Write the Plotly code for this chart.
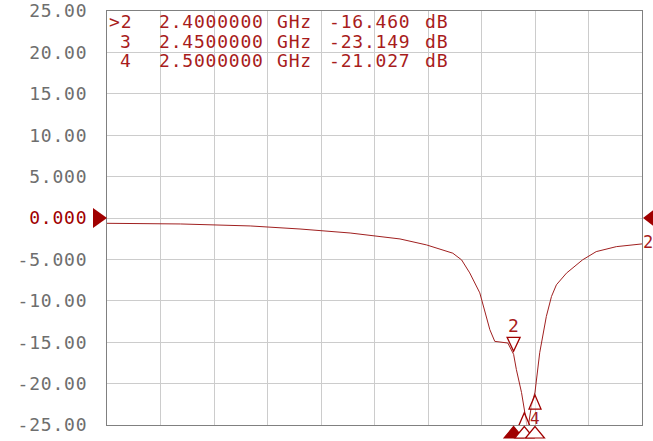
import plotly.graph_objects as go

# ---- data ----
freq_ghz = [0.5, 0.843, 1.169, 1.402, 1.636, 1.869, 1.993, 2.116, 2.157, 2.195,
            2.242, 2.265, 2.289, 2.312, 2.349, 2.373, 2.4, 2.413, 2.437, 2.45,
            2.466, 2.483, 2.5, 2.522, 2.553, 2.577, 2.600, 2.647, 2.722, 2.786,
            2.880, 3.0]
s11_db = [-0.64, -0.72, -0.96, -1.33, -1.81, -2.53, -3.25, -4.25, -5.06, -6.63,
          -9.04, -11.08, -13.49, -14.90, -15.02, -15.10, -16.46, -18.31, -21.08, -23.149,
          -25.6, -22.73, -21.027, -16.27, -11.89, -9.48, -8.07, -6.66, -5.06, -4.06,
          -3.46, -3.13]

marker_ids = ["2", "3", "4"]
marker_freq = [2.40, 2.45, 2.50]
marker_db = [-16.460, -23.149, -21.027]
marker_freq_text = ["2.4000000", "2.4500000", "2.5000000"]
marker_db_text = ["-16.460", "-23.149", "-21.027"]
active_marker = "2"

y_tick_vals = [25, 20, 15, 10, 5, 0, -5, -10, -15, -20, -25]
y_tick_text = ["25.00", "20.00", "15.00", "10.00", "5.000", "0.000",
               "-5.000", "-10.00", "-15.00", "-20.00", "-25.00"]
x_range = [0.5, 3.0]
y_range = [-25, 25]
ref_level = 0

# ---- style ----
W, H = 653, 441
L, R, T, B = 107, 11, 11, 16
PW, PH = W - L - R, H - T - B
RED = "#a00000"
TRACE = "#a02020"
TXT = "#a81c1c"
GRAY = "#6e6e6e"
GRID = "#cccccc"
FONT = "DejaVu Sans Mono"
SP = "letter-spacing:0.8px"

def px_x(X):
    return (X - L) / PW

def px_y(Y):
    return (H - B - Y) / PH

def spaced(t, color=None):
    st = SP + (f";fill:{color}" if color else "")
    return f'<span style="{st}">{t}</span>'

fig = go.Figure()
fig.add_trace(go.Scatter(x=freq_ghz, y=s11_db, mode="lines",
                         line=dict(color=TRACE, width=1), hoverinfo="skip"))

ticktext = [spaced(t, RED if v == ref_level else None)
            for v, t in zip(y_tick_vals, y_tick_text)]

fig.update_layout(
    width=W, height=H, margin=dict(l=L, r=R, t=T, b=B, pad=0, autoexpand=False),
    paper_bgcolor="white", plot_bgcolor="white", showlegend=False,
    xaxis=dict(range=x_range, dtick=0.25, tick0=0.5, showticklabels=False,
               showgrid=True, gridcolor=GRID, gridwidth=1, zeroline=False,
               showline=True, linecolor="#808080", linewidth=1, mirror=True,
               ticks="", automargin=False),
    yaxis=dict(range=y_range, tickvals=y_tick_vals, ticktext=ticktext,
               showgrid=True, gridcolor=GRID, gridwidth=1, zeroline=False,
               showline=True, linecolor="#808080", linewidth=1, mirror=True,
               ticks="", ticklabelstandoff=15, automargin=False,
               tickfont=dict(family=FONT, size=18, color=GRAY)),
)

shapes = []
annotations = []

# marker table
row_y = [21.5, 41, 60.5]
for i, mid in enumerate(marker_ids):
    yy = px_y(row_y[i])
    lab = ("&gt;" if mid == active_marker else "") + mid
    cols = [(lab, 133, "right"), (marker_freq_text[i], 158, "left"),
            ("GHz", 276, "left"), (marker_db_text[i], 328, "left"),
            ("dB", 424, "left")]
    for txt, X, anc in cols:
        annotations.append(dict(text=spaced(txt), x=px_x(X), y=yy, xref="paper",
                                yref="paper", xanchor=anc, yanchor="middle",
                                showarrow=False, borderpad=0,
                                font=dict(family=FONT, size=18, color=TXT)))

# on-trace markers
for mid, f, v in zip(marker_ids, marker_freq, marker_db):
    if mid == active_marker:
        path = "M 0 3 L -6.5 17 L 6.5 17 Z"
        annotations.append(dict(text=mid, x=f, y=v, xref="x", yref="y", yshift=29,
                                showarrow=False, xanchor="center", yanchor="middle",
                                font=dict(family=FONT, size=18, color=TXT)))
    else:
        path = "M 0 -3 L -6 -17 L 6 -17 Z"
        if mid == "4":
            annotations.append(dict(text=mid, x=f, y=v, xref="x", yref="y", yshift=-26,
                                    showarrow=False, xanchor="center", yanchor="middle",
                                    font=dict(family=FONT, size=16, color=TXT)))
    shapes.append(dict(type="path", xref="x", yref="y", xsizemode="pixel",
                       ysizemode="pixel", xanchor=f, yanchor=v, path=path,
                       line=dict(color=RED, width=1.3), fillcolor="rgba(255,255,255,0.6)"))

# x-axis position indicators (below plot)
for mid, f in zip(marker_ids, marker_freq):
    filled = mid == active_marker
    shapes.append(dict(type="path", xref="x", yref="paper", xsizemode="pixel",
                       ysizemode="pixel", xanchor=f, yanchor=0,
                       path="M 0 -1.5 L -9.5 -13 L 9.5 -13 Z",
                       line=dict(color=RED, width=1.2),
                       fillcolor=RED if filled else "white"))

# reference level triangles
shapes.append(dict(type="path", xref="paper", yref="y", xsizemode="pixel",
                   ysizemode="pixel", xanchor=0, yanchor=ref_level,
                   path="M 0 0 L -14 10 L -14 -10 Z", line=dict(width=0),
                   fillcolor=RED))
shapes.append(dict(type="path", xref="paper", yref="y", xsizemode="pixel",
                   ysizemode="pixel", xanchor=1, yanchor=ref_level,
                   path="M 1 0 L 14 10 L 14 -10 Z", line=dict(width=0),
                   fillcolor=RED))

# trace label at right end
annotations.append(dict(text="2", x=freq_ghz[-1], y=s11_db[-1], xref="x", yref="y",
                        xanchor="left", yanchor="middle", yshift=2, showarrow=False,
                        borderpad=0, font=dict(family=FONT, size=17, color=TXT)))

fig.update_layout(shapes=shapes, annotations=annotations)
fig.write_html("out.html", config={"displayModeBar": False},
               post_script="document.body.style.margin='0';document.body.style.overflow='hidden';")
